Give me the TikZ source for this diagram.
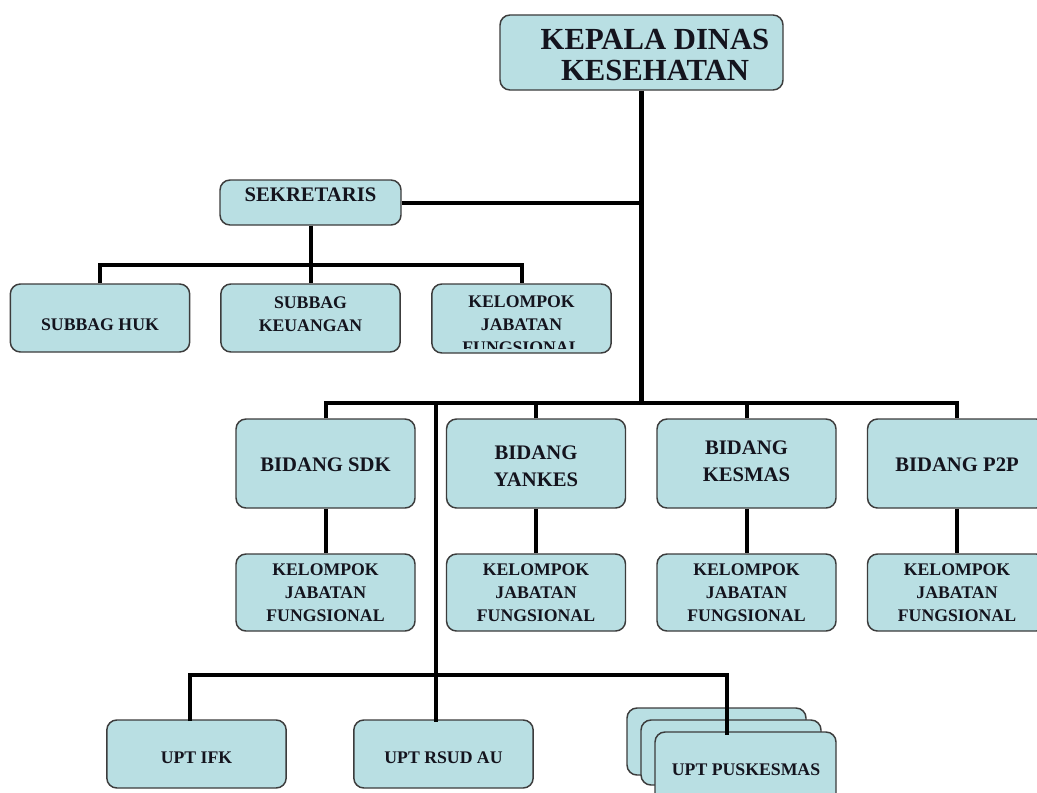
\documentclass[tikz,border=0pt]{standalone}
\usepackage{fontspec}
\setmainfont{Liberation Serif}
\definecolor{boxc}{HTML}{B9DFE3}
\definecolor{bordc}{HTML}{3C3C3C}
\definecolor{txtc}{HTML}{14141E}
\begin{document}
\begin{tikzpicture}[x=0.75pt,y=-0.75pt,
  box/.style={draw=bordc,fill=boxc,rounded corners=7.5pt,line width=1.1pt,inner sep=0pt},
  sbox/.style={box,minimum width=134.5pt,minimum height=51pt},
  bbox/.style={box,minimum width=134.25pt,minimum height=66.75pt},
  kbox/.style={box,minimum width=134.25pt,minimum height=57.75pt},
  lbl/.style={inner sep=0pt,align=center,text=txtc,font=\bfseries\fontsize{13.3pt}{17.3pt}\selectfont},
  mlbl/.style={lbl,font=\bfseries\fontsize{15.5pt}{20.5pt}\selectfont},
  tlbl/.style={lbl,font=\bfseries\fontsize{23pt}{23.6pt}\selectfont},
  conn/.style={line width=3pt,black},
  trunk/.style={line width=3.6pt,black}]
\clip (0,0) rectangle (1037,792);
\fill[white] (0,0) rectangle (1037,792);

% junction points
\coordinate (j0) at (641.5,403);
\coordinate (jsek) at (641.5,203);
\coordinate (js) at (310.5,265);
\coordinate (jl) at (100,265);
\coordinate (jr) at (521.5,265);
\coordinate (bl) at (325.5,403);
\coordinate (br) at (957,403);
\coordinate (u0) at (436,403);
\coordinate (u1) at (436,675);
\coordinate (ul) at (190,675);
\coordinate (ur) at (727,675);
\coordinate (uifk) at (190,721);
\coordinate (ursud) at (436,722);
\coordinate (upus) at (727,735);

% boxes
\node[box,minimum width=212.25pt,minimum height=56.25pt] (kadis) at (641.5,52.5) {};
\node[box,minimum width=135.75pt,minimum height=33.75pt] (sek) at (310.5,202.5) {};
\node[sbox] (huk) at (100,318) {};
\node[sbox] (keu) at (310.5,318) {};
\node[sbox,minimum height=51.75pt] (kjt) at (521.5,318.5) {};
\node[bbox] (sdk) at (325.5,463.5) {};
\node[bbox] (yan) at (536,463.5) {};
\node[bbox] (kes) at (746.5,463.5) {};
\node[bbox] (ptp) at (957,463.5) {};
\node[kbox] (k1) at (325.5,592.5) {};
\node[kbox] (k2) at (536,592.5) {};
\node[kbox] (k3) at (746.5,592.5) {};
\node[kbox] (k4) at (957,592.5) {};
\node[sbox] (ifk) at (196.5,754) {};
\node[sbox] (rsud) at (443.5,754) {};
\node[box,minimum width=134.25pt,minimum height=50.25pt] (pus3) at (716.5,741.5) {};
\node[box,minimum width=135pt,minimum height=48.75pt] (pus2) at (731,752.5) {};

% connector lines
\draw[trunk] (kadis.south) -- (j0);
\draw[conn] (sek.east |- jsek) -- (jsek);
\draw[conn] (sek.south) -- (js);
\draw[conn] (huk.north) |- (jl) -- (jr) -| (kjt.north);
\draw[conn] (js) -- (keu.north);
\draw[conn] (sdk.north) |- (bl) -- (br) -| (ptp.north);
\draw[conn] (yan.north) -- (yan.north |- bl);
\draw[conn] (kes.north) -- (kes.north |- bl);
\draw[conn] (sdk.south) -- (k1.north);
\draw[conn] (yan.south) -- (k2.north);
\draw[conn] (kes.south) -- (k3.north);
\draw[conn] (ptp.south) -- (k4.north);
\draw[conn] (u0) -- (u1) -- (ursud);
\draw[conn] (uifk) -- (ul) -- (ur) -- (upus);

\node[box,minimum width=135.75pt,minimum height=54.75pt] (pus1) at (745.5,768.5) {};
\draw[conn] (727,718) -- (upus);

% labels
\node[tlbl] (tkadis) at (655,55) {KEPALA DINAS\\KESEHATAN};
\node[mlbl] (tsek) at (310.5,195) {SEKRETARIS};
\node[lbl] (thuk) at (100,325) {SUBBAG HUK};
\node[lbl] (tkeu) at (310.5,314) {SUBBAG\\KEUANGAN};
\begin{scope}
\clip (432,284) rectangle (611,348);
\node[lbl] (tkjt) at (521.5,325) {KELOMPOK\\JABATAN\\FUNGSIONAL};
\end{scope}
\node[mlbl] (tsdk) at (325.5,465) {BIDANG SDK};
\node[mlbl] (tyan) at (536,466) {BIDANG\\YANKES};
\node[mlbl] (tkes) at (746.5,461) {BIDANG\\KESMAS};
\node[mlbl] (tptp) at (957,465) {BIDANG P2P};
\node[lbl] (tk1) at (325.5,593) {KELOMPOK\\JABATAN\\FUNGSIONAL};
\node[lbl] (tk2) at (536,593) {KELOMPOK\\JABATAN\\FUNGSIONAL};
\node[lbl] (tk3) at (746.5,593) {KELOMPOK\\JABATAN\\FUNGSIONAL};
\node[lbl] (tk4) at (957,593) {KELOMPOK\\JABATAN\\FUNGSIONAL};
\node[lbl] (tifk) at (196.5,758) {UPT IFK};
\node[lbl] (trsud) at (443.5,758) {UPT RSUD AU};
\node[lbl] (tpus) at (746,770) {UPT PUSKESMAS};
\end{tikzpicture}
\end{document}
